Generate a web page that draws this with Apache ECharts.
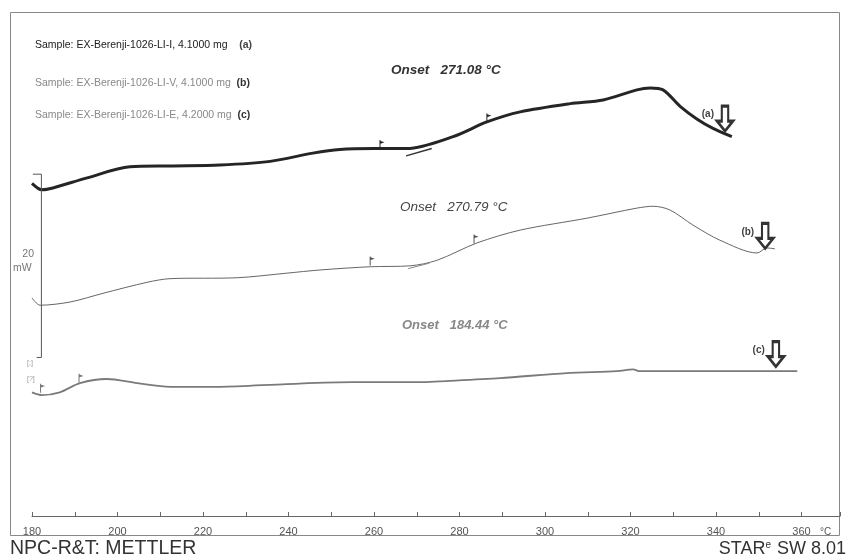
<!DOCTYPE html>
<html>
<head>
<meta charset="utf-8">
<script src="https://cdn.jsdelivr.net/npm/echarts@6/dist/echarts.min.js"></script>
<style>html,body{margin:0;padding:0;background:#fff}#c{width:849px;height:559px}</style>
</head>
<body>
<div id="c"></div>
<script>
// ---- data (temperature °C, heat flow mW, curves offset on a common scale) ----
var tempA = [180, 182.3, 184.9, 192.9, 202.9, 212.3, 224, 235.7, 245.7, 252, 260, 267.7, 278.5, 286.4, 294.2, 305.9, 313.6, 321.5, 324.6, 327.6, 331.6, 335.6, 339.3, 343.7];
var flowA = [36.3, 35.6, 35.8, 36.9, 38.1, 38.2, 38.3, 38.7, 39.6, 40.0, 40.1, 40.1, 41.4, 43.0, 44.1, 45.0, 45.4, 46.5, 46.7, 46.5, 44.7, 43.3, 42.3, 41.4];
var tempB = [180, 181.9, 188.9, 196.6, 206.9, 212.3, 228, 239.6, 247.4, 259.1, 268.4, 274.7, 284.1, 294.2, 309.8, 321.5, 325.3, 329.2, 334.6, 340.9, 349.6, 351.9, 353.8];
var flowB = [23.8, 23.0, 23.35, 24.3, 25.5, 25.9, 26.0, 26.5, 26.85, 27.2, 27.3, 27.9, 29.8, 31.2, 32.5, 33.6, 33.8, 33.4, 31.75, 30.1, 28.7, 29.25, 29.15];
var tempC = [180, 182.3, 186.5, 191.2, 197.5, 204.6, 212.3, 224, 239.6, 255.1, 270.8, 275.4, 289.5, 305.1, 316.8, 320.6, 322.2, 359];
var flowC = [13.5, 13.2, 13.5, 14.5, 14.95, 14.5, 14.1, 14.1, 14.4, 14.6, 14.6, 14.7, 15.05, 15.6, 15.8, 16.0, 15.8, 15.8];
var xTicks = [180, 200, 220, 240, 260, 280, 300, 320, 340, 360];
var sampleNames = ['Sample: EX-Berenji-1026-LI-I, 4.1000 mg', 'Sample: EX-Berenji-1026-LI-V, 4.1000 mg', 'Sample: EX-Berenji-1026-LI-E, 4.2000 mg'];
var curveTags = ['(a)', '(b)', '(c)'];
var onsets = ['271.08', '270.79', '184.44'];
// end-of-run arrows [temperature, flow]
var arrowA = [342.1, 42.0], arrowB = [351.5, 29.2], arrowC = [354, 16.3];
// onset evaluation flags [temperature, flow]
var flagsA = [[261.4, 40.1], [286.4, 43.0]];
var flagsB = [[259.1, 27.4], [283.4, 29.8]];
var flagsC = [[182, 13.5], [191, 14.6]];
var tangentA = [[267.5, 39.3], [273.5, 40.1]];
var tangentB = [[268, 27.0], [273, 27.6]];
// 20 mW scale bar
var scaleT = [180.2, 182.2, 182.2, 181.1];
var scaleV = [37.3, 37.3, 17.3, 17.3];

function zip(a, b) { return a.map(function (v, i) { return [v, b[i]]; }); }

var arrowPath = 'path://M3,0 L7,0 L7,9 L10,9 L5,15 L0,9 L3,9 Z';
var flagPath = 'path://M0,0 L1,0 L1,1 L5,2.5 L1,4 L1,10 L0,10 Z';

function arrowMark(pt, tag) {
  return {
    coord: pt, symbol: arrowPath, symbolSize: [16, 25], symbolKeepAspect: false,
    symbolOffset: [0, '-50%'],
    itemStyle: { color: '#fff', borderColor: '#333', borderWidth: 2.6 },
    label: { show: true, position: 'left', formatter: tag, color: '#444', fontSize: 10, fontWeight: 'bold', distance: 2, offset: [0, -4] }
  };
}
function flagMarks(list, col) {
  return list.map(function (p) {
    return { coord: p, symbol: flagPath, symbolSize: [5, 9], symbolOffset: [2, -4],
      itemStyle: { color: col, borderWidth: 0 }, label: { show: false } };
  });
}

var chart = echarts.init(document.getElementById('c'), null, { renderer: 'canvas' });
var font = 'Liberation Sans, Arial, sans-serif';

chart.setOption({
  animation: false,
  backgroundColor: '#fff',
  grid: { left: 32, right: 9, top: 12, bottom: 43, containLabel: false },
  xAxis: {
    type: 'value', min: 180, max: 369, interval: 10,
    axisLine: { show: true, lineStyle: { color: '#666', width: 1 } },
    axisTick: { show: true, inside: true, length: 4, lineStyle: { color: '#666' } },
    axisLabel: {
      color: '#555', fontSize: 11, fontFamily: 'Liberation Sans Narrow, Liberation Sans, sans-serif', margin: 10,
      formatter: function (v) { return xTicks.indexOf(v) >= 0 ? String(v) : ''; }
    },
    splitLine: { show: false }
  },
  yAxis: { type: 'value', min: 0, max: 55, show: false },
  series: [
    {
      name: 'a', type: 'line', data: zip(tempA, flowA), showSymbol: false, smooth: 0.3,
      lineStyle: { color: '#252525', width: 3 }, silent: true,
      markPoint: { silent: true, data: [arrowMark(arrowA, curveTags[0])].concat(flagMarks(flagsA, '#252525')) },
      markLine: { silent: true, symbol: 'none', label: { show: false }, lineStyle: { color: '#333', width: 1.5, type: 'solid' },
        data: [[{ coord: tangentA[0] }, { coord: tangentA[1] }]] }
    },
    {
      name: 'b', type: 'line', data: zip(tempB, flowB), showSymbol: false, smooth: 0.3,
      lineStyle: { color: '#666', width: 1 }, silent: true,
      markPoint: { silent: true, data: [arrowMark(arrowB, curveTags[1])].concat(flagMarks(flagsB, '#555')) },
      markLine: { silent: true, symbol: 'none', label: { show: false }, lineStyle: { color: '#888', width: 1, type: 'solid' },
        data: [[{ coord: tangentB[0] }, { coord: tangentB[1] }]] }
    },
    {
      name: 'c', type: 'line', data: zip(tempC, flowC), showSymbol: false, smooth: 0.3,
      lineStyle: { color: '#7a7a7a', width: 1.8 }, silent: true,
      markPoint: { silent: true, data: [arrowMark(arrowC, curveTags[2])].concat(flagMarks(flagsC, '#777')) }
    },
    {
      name: 'scale', type: 'line', data: zip(scaleT, scaleV), showSymbol: false, smooth: false,
      lineStyle: { color: '#555', width: 1 }, silent: true
    }
  ],
  graphic: [
    { type: 'rect', shape: { x: 10.5, y: 12.5, width: 829, height: 523 }, style: { fill: 'none', stroke: '#888', lineWidth: 1 }, silent: true },
    { type: 'text', left: 35, top: 40, style: { text: sampleNames[0] + '    {t|' + curveTags[0] + '}', fill: '#1a1a1a', font: '10.5px ' + font,
        rich: { t: { fill: '#444', fontSize: 10.5, fontWeight: 'bold', fontFamily: font } } } },
    { type: 'text', left: 35, top: 78, style: { text: sampleNames[1] + '  {t|' + curveTags[1] + '}', fill: '#888', font: '10.5px ' + font,
        rich: { t: { fill: '#333', fontSize: 10.5, fontWeight: 'bold', fontFamily: font } } } },
    { type: 'text', left: 35, top: 110, style: { text: sampleNames[2] + '  {t|' + curveTags[2] + '}', fill: '#888', font: '10.5px ' + font,
        rich: { t: { fill: '#333', fontSize: 10.5, fontWeight: 'bold', fontFamily: font } } } },
    { type: 'text', left: 391, top: 63, style: { text: 'Onset   ' + onsets[0] + ' °C', fill: '#333', font: 'italic bold 13.5px ' + font } },
    { type: 'text', left: 400, top: 200, style: { text: 'Onset   ' + onsets[1] + ' °C', fill: '#444', font: 'italic 13.5px ' + font } },
    { type: 'text', left: 402, top: 319, style: { text: 'Onset   ' + onsets[2] + ' °C', fill: '#888', font: 'italic bold 13px ' + font } },
    { type: 'text', right: 849 - 34, top: 249, style: { text: '20', fill: '#777', font: '10.5px ' + font, align: 'right' } },
    { type: 'text', left: 13, top: 263, style: { text: 'mW', fill: '#777', font: '10.5px ' + font } },
    { type: 'text', left: 27, top: 360, style: { text: '[;]', fill: '#999', font: '7px ' + font } },
    { type: 'text', left: 27, top: 376, style: { text: '[?]', fill: '#999', font: '7px ' + font } },
    { type: 'text', left: 820, top: 527, style: { text: '°C', fill: '#555', font: '10px Liberation Sans Narrow, ' + font } },
    { type: 'text', left: 10, top: 539, style: { text: 'NPC-R&T: METTLER', fill: '#333', font: '19.5px ' + font } },
    { type: 'text', right: 3, top: 540, style: { text: 'STAR{s|e} SW 8.01', fill: '#333', font: '18px ' + font,
        rich: { s: { fontSize: 10, verticalAlign: 'top', fill: '#333', padding: [0, 1, 8, 0] } } } }
  ]
});
</script>
</body>
</html>
